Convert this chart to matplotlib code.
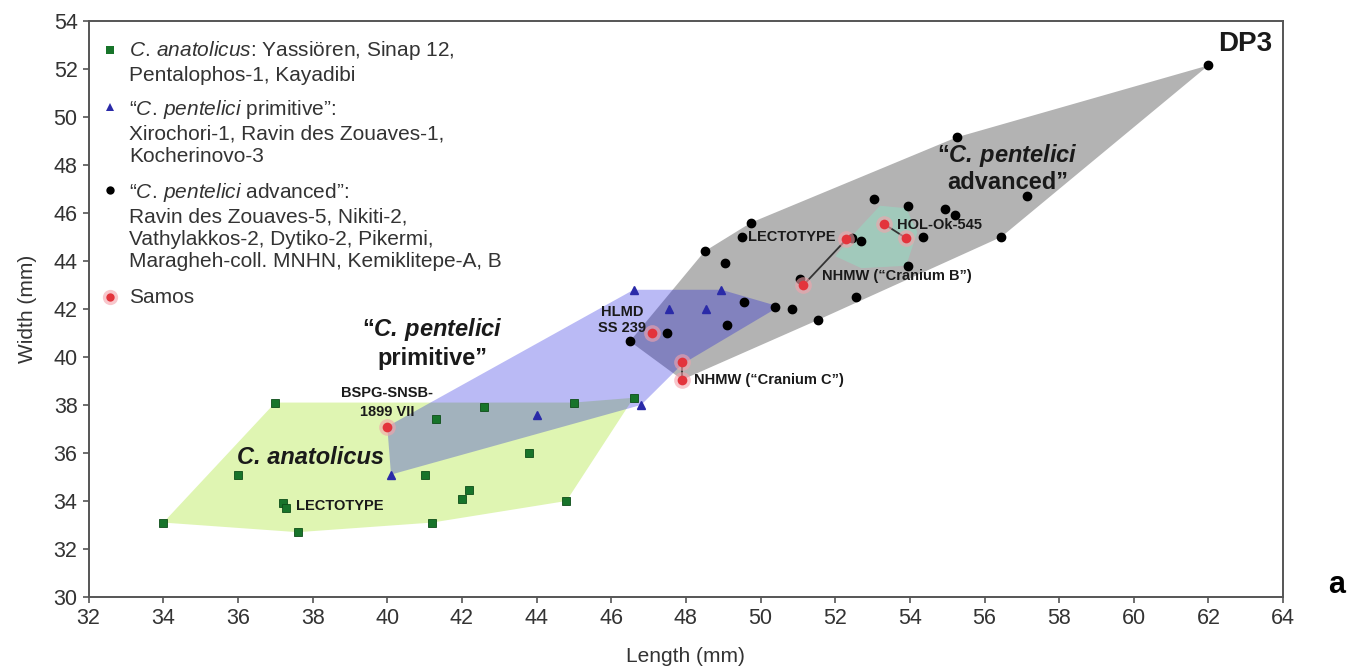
import numpy as np
import matplotlib.pyplot as plt

plt.rcParams['font.family'] = ['Liberation Sans', 'DejaVu Sans']
plt.rcParams['mathtext.fontset'] = 'custom'
plt.rcParams['mathtext.rm'] = 'Liberation Sans'
plt.rcParams['mathtext.it'] = 'Liberation Sans:italic'
plt.rcParams['mathtext.bf'] = 'Liberation Sans:bold'
plt.rcParams['mathtext.bfit'] = 'Liberation Sans:italic:bold'

## data (length, width in mm)
# C. anatolicus
anat_len = [34.0, 37.0, 36.0, 37.2, 37.3, 37.6, 41.3, 42.6, 45.0, 41.0, 42.0, 42.2, 43.8, 44.8, 41.2, 46.6]
anat_wid = [33.1, 38.1, 35.1, 33.9, 33.7, 32.7, 37.4, 37.9, 38.1, 35.1, 34.1, 34.45, 36.0, 34.0, 33.1, 38.3]

# "C. pentelici primitive"
prim_len = [40.1, 44.0, 46.6, 47.55, 48.55, 48.95, 46.8]
prim_wid = [35.1, 37.6, 42.8, 42.0, 42.0, 42.8, 38.0]

# "C. pentelici advanced"
adv_len = [46.5, 47.5, 48.5, 49.05, 49.75, 49.5, 52.45, 52.7, 53.05, 55.25, 53.95, 54.35, 56.45,
           53.95, 51.05, 52.55, 49.55, 50.4, 50.85, 51.55, 49.1, 54.95, 55.2, 57.15, 62.0]
adv_wid = [40.65, 41.0, 44.4, 43.9, 45.6, 45.0, 44.95, 44.85, 46.6, 49.15, 46.3, 45.0, 45.0,
           43.8, 43.25, 42.5, 42.3, 42.1, 42.0, 41.55, 41.35, 46.15, 45.9, 46.7, 52.15]

# Samos
samos_len = [40.0, 47.1, 47.9, 47.9, 51.15, 52.3, 53.3, 53.9]
samos_wid = [37.1, 41.0, 39.8, 39.05, 43.0, 44.9, 45.55, 44.95]
samos_pairs = [(2, 3), (4, 5), (6, 7)]

# group outlines
anat_hull_len = [34.0, 37.0, 45.0, 46.6, 44.8, 41.2, 37.6]
anat_hull_wid = [33.1, 38.1, 38.1, 38.3, 34.0, 33.1, 32.7]
prim_hull_len = [40.1, 40.0, 46.6, 48.95, 50.5, 47.9, 46.8]
prim_hull_wid = [35.1, 37.1, 42.8, 42.8, 42.1, 39.7, 38.0]
adv_hull_len = [46.5, 48.5, 49.75, 55.25, 62.0, 56.45, 51.55, 47.9]
adv_hull_wid = [40.65, 44.4, 45.6, 49.15, 52.15, 45.0, 41.55, 39.05]
samos_hull_len = [52.0, 52.6, 53.2, 53.9, 54.2, 53.9, 52.7]
samos_hull_wid = [44.2, 45.3, 46.3, 46.2, 45.2, 43.8, 43.7]

legend_labels = [
    r"$\mathit{C.\,anatolicus}$: Yassiören, Sinap 12," + "\nPentalophos-1, Kayadibi",
    r"“$\mathit{C.\,pentelici}$ primitive”:" + "\nXirochori-1, Ravin des Zouaves-1,\nKocherinovo-3",
    r"“$\mathit{C.\,pentelici}$ advanced”:" + "\nRavin des Zouaves-5, Nikiti-2,\nVathylakkos-2, Dytiko-2, Pikermi,\nMaragheh-coll. MNHN, Kemiklitepe-A, B",
    "Samos",
]

green, blue, red = '#17742a', '#2a2aa8', '#e3343c'

fig = plt.figure(figsize=(13.64, 6.70), dpi=100)
ax = fig.add_axes([0.065, 0.109, 0.8757, 0.8597])

# hulls
ax.fill(anat_hull_len, anat_hull_wid, color='#dff5b2', zorder=1, lw=0)
ax.fill(adv_hull_len, adv_hull_wid, color='#b3b3b3', zorder=1, lw=0)
ax.fill(samos_hull_len, samos_hull_wid, color='#96d8c2', alpha=0.6, zorder=1.5, lw=0)
ax.fill(prim_hull_len, prim_hull_wid, color='#0000dc', alpha=0.27, zorder=2, lw=0)

# connecting lines between Samos specimens
for i, j in samos_pairs:
    ax.plot([samos_len[i], samos_len[j]], [samos_wid[i], samos_wid[j]], color='#333', lw=1.3, zorder=3)

ax.plot(anat_len, anat_wid, 's', color=green, ms=6, mec='#0d4d18', mew=0.6, zorder=4)
ax.plot(prim_len, prim_wid, '^', color=blue, ms=6, mec=blue, zorder=4)
ax.plot(adv_len, adv_wid, 'o', color='black', ms=6, zorder=4)
ax.plot(samos_len, samos_wid, 'o', color='#f4a3ab', ms=12, alpha=0.6, mew=0, zorder=4)
ax.plot(samos_len, samos_wid, 'o', color=red, ms=7, mew=0, zorder=5)

# labels in the plot
lab = dict(fontsize=10.5, fontweight='bold', color='#1a1a1a', zorder=6)
ax.text(35.98, 35.8, 'C. anatolicus', fontsize=17, fontweight='bold', style='italic',
        color='#1a1a1a', va='center', zorder=6)
ax.text(37.55, 33.8, 'LECTOTYPE', va='center', **lab)
ax.text(40.0, 38.1, 'BSPG-SNSB-\n1899 VII', ha='center', va='center', linespacing=1.5, **lab)
ax.text(41.2, 40.58, r'“$\mathbfit{C.\,pentelici}$' + '\nprimitive”', fontsize=17, fontweight='bold',
        ha='center', va='center', linespacing=1.2, color='#1a1a1a', zorder=6)
ax.text(46.3, 41.55, 'HLMD\nSS 239', ha='center', va='center', linespacing=1.2, **lab)
ax.text(48.23, 39.04, 'NHMW (“Cranium C”)', va='center', **lab)
ax.text(49.66, 45.0, 'LECTOTYPE', va='center', **lab)
ax.text(51.64, 43.38, 'NHMW (“Cranium B”)', va='center', **lab)
ax.text(53.65, 45.5, 'HOL-Ok-545', va='center', **lab)
ax.text(56.62, 47.88, r'“$\mathbfit{C.\,pentelici}$' + '\nadvanced”', fontsize=17, fontweight='bold',
        ha='center', va='center', linespacing=1.1, color='#1a1a1a', zorder=6)
ax.text(62.98, 53.05, 'DP3', fontsize=20, fontweight='bold', ha='center', va='center',
        color='#1a1a1a', zorder=6)

# legend, drawn by hand so the marker sits on the first line
leg_mark_y = [0.9497, 0.8507, 0.7066, 0.5208]
leg_text_y = [0.9683, 0.8663, 0.7222, 0.5365]
leg_marks = [('s', green), ('^', blue), ('o', 'black'), ('o', red)]
for (m, c), ym, yt, txt in zip(leg_marks, leg_mark_y, leg_text_y, legend_labels):
    if c == red:
        ax.plot(0.018, ym, 'o', color='#f4a3ab', ms=11, alpha=0.6, mew=0, transform=ax.transAxes)
    ax.plot(0.018, ym, m, color=c, ms=6, mew=0, transform=ax.transAxes, clip_on=False)
    ax.text(0.034, yt, txt, transform=ax.transAxes, fontsize=15, color='#333333',
            va='top', linespacing=1.22)

ax.set_xlim(32, 64)
ax.set_ylim(30, 54)
ax.set_xticks(np.arange(32, 65, 2))
ax.set_yticks(np.arange(30, 55, 2))
for s in ax.spines.values():
    s.set_color('#555555')
    s.set_linewidth(1.4)
ax.tick_params(direction='out', length=4, width=1.2, color='#555555', labelsize=15.5,
               labelcolor='#333333', pad=4)
ax.set_xlabel('Length (mm)', fontsize=15, color='#333333', labelpad=13)
ax.set_ylabel('Width (mm)', fontsize=15, color='#333333', labelpad=12)

fig.text(1337 / 1364, 1 - 585 / 670, 'a', fontsize=22, fontweight='bold', ha='center', va='center')

fig.savefig('out.png', dpi=100)
